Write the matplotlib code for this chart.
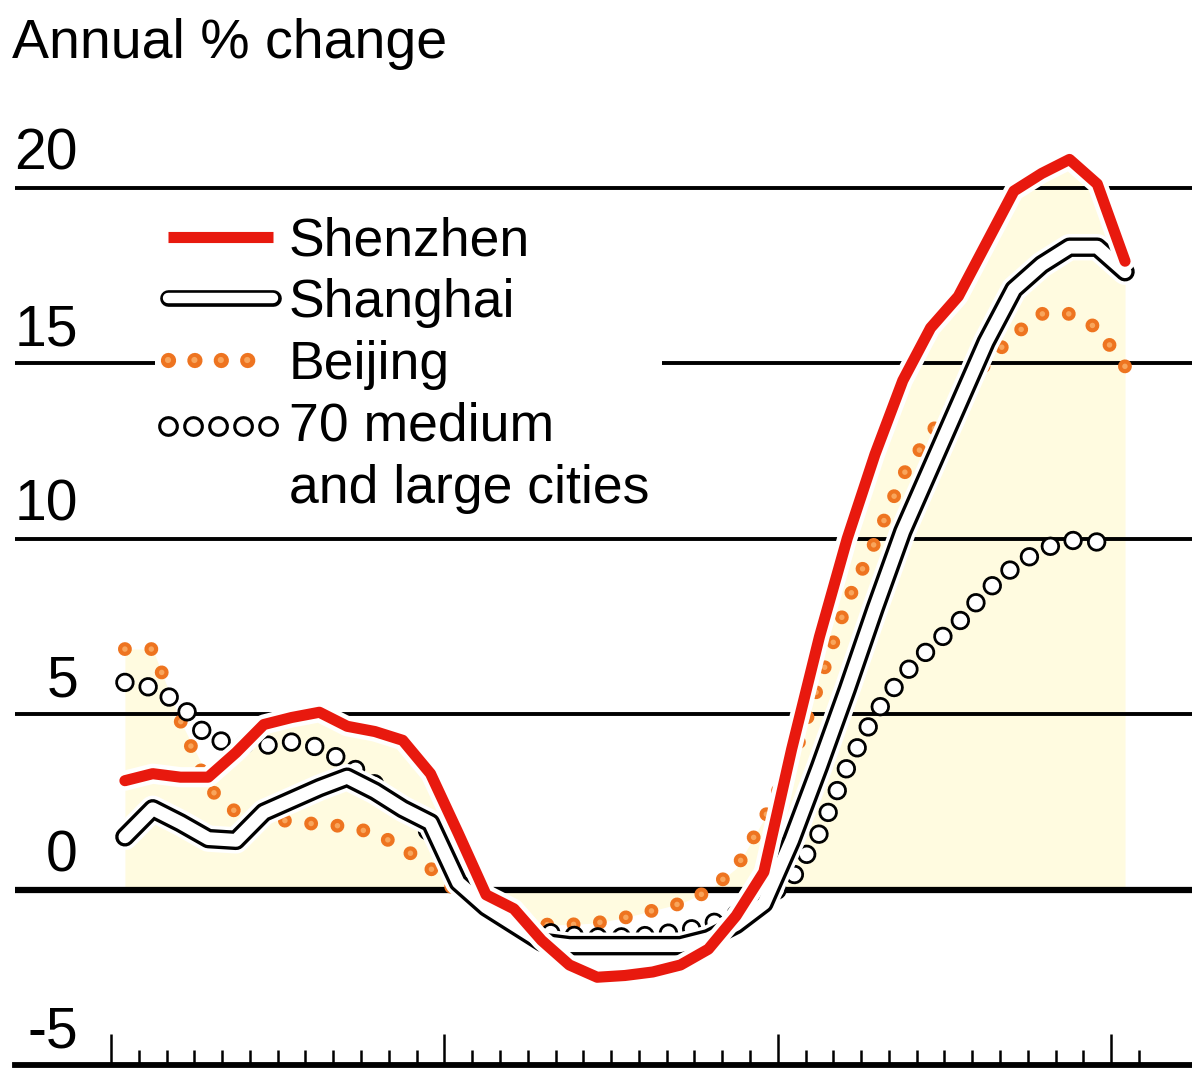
import matplotlib
matplotlib.use("Agg")
import matplotlib.pyplot as plt
import matplotlib.patheffects as pe
from matplotlib.lines import Line2D
from matplotlib.legend_handler import HandlerTuple
from matplotlib.ticker import FixedLocator
import numpy as np

plt.rcParams["font.family"] = ["Liberation Sans", "DejaVu Sans"]
plt.rcParams["lines.scale_dashes"] = False

# monthly annual % change, Jan 2011 .. Jan 2014 (70 cities to Dec 2013)
SHENZHEN = [3.1, 3.3, 3.2, 3.2, 3.9, 4.7, 4.9, 5.05, 4.65, 4.5, 4.25, 3.3,
            1.6, -0.15, -0.55, -1.45, -2.15, -2.5, -2.45, -2.35, -2.15, -1.7,
            -0.75, 0.5, 4.0, 7.2, 10.0, 12.4, 14.5, 16.0, 16.9, 18.4,
            19.9, 20.4, 20.8, 20.1, 17.9]
SHANGHAI = [1.5, 2.3, 1.9, 1.45, 1.4, 2.2, 2.55, 2.9, 3.2, 2.8, 2.3, 1.9,
            0.2, -0.5, -1.0, -1.5, -1.6, -1.6, -1.6, -1.6, -1.6, -1.4,
            -1.0, -0.4, 1.4, 3.5, 5.7, 8.0, 10.2, 12.0, 13.8, 15.6,
            17.1, 17.8, 18.3, 18.3, 17.6]
BEIJING = [6.85, 6.85, 4.8, 2.9, 2.2, 2.0, 1.95, 1.85, 1.8, 1.6, 1.2, 0.6,
           -0.1, -0.6, -0.9, -1.0, -1.0, -0.95, -0.8, -0.6, -0.4, -0.05,
           0.6, 2.0, 3.6, 5.9, 8.2, 9.9, 11.8, 13.0, 14.0, 15.0,
           15.8, 16.4, 16.4, 16.0, 14.9]
CITIES70 = [5.9, 5.75, 5.3, 4.3, 4.15, 4.1, 4.2, 4.05, 3.6, 3.0, 2.3, 1.6,
            0.5, -0.4, -0.9, -1.2, -1.3, -1.35, -1.35, -1.3, -1.2, -1.0,
            -0.7, -0.3, 0.3, 1.6, 3.5, 5.0, 6.1, 6.9, 7.6, 8.5,
            9.2, 9.7, 9.95, 9.9]
Y_TICKS = [-5, 0, 5, 10, 15, 20]
N_MONTH_TICKS = 38

RED = "#e8190e"
ORANGE = "#ee7420"
ORANGE_IN = "#f8a55c"
SHADE = "#fffbe0"


class FirstLineTuple(HandlerTuple):
    """Tuple handler whose marks sit on the first line of a two-line label."""
    def create_artists(self, legend, orig_handle, xdescent, ydescent,
                       width, height, fontsize, trans):
        return super().create_artists(legend, orig_handle, xdescent,
                                      ydescent - 1.22 * fontsize, width,
                                      height, fontsize, trans)


x = np.arange(len(SHENZHEN)) + 0.5
x70 = np.arange(len(CITIES70)) + 0.5

fig = plt.figure(figsize=(11.92, 10.74), dpi=100)
ax = fig.add_axes([15 / 1192, 9 / 1074, 1 - 15 / 1192, (1065 - 90) / 1074])
ax.set_xlim(-3.456, 38.91)
ax.set_ylim(-5, -5 + (1065 - 90) / 35.1)

# pale shading under the upper envelope
env = np.max(np.vstack([SHENZHEN, SHANGHAI, BEIJING]), axis=0)
ax.fill_between(x, 0, env, color=SHADE, lw=0, zorder=1)

# gridlines + labels
for v in Y_TICKS:
    if v > -5:
        ax.axhline(v, color="black", lw=4.5 if v == 0 else 2.8, zorder=2)
    ax.text(-1.19, v + 0.5, f"{v}", ha="right", va="baseline",
            fontsize=41, color="black", zorder=3)

halo = lambda w: [pe.withStroke(linewidth=w, foreground="white")]

# Beijing: orange dots
ax.plot(x, BEIJING, color=ORANGE, lw=10, ls=(0, (0.01, 19)),
        dash_capstyle="round", zorder=3)
ax.plot(x, BEIJING, color=ORANGE_IN, lw=4, ls=(0, (0.01, 19)),
        dash_capstyle="round", zorder=3)

# 70 cities: open circles
ax.plot(x70, CITIES70, color="black", lw=14, ls=(0, (0.01, 17)),
        dash_capstyle="round", zorder=4)
ax.plot(x70, CITIES70, color="white", lw=10, ls=(0, (0.01, 17)),
        dash_capstyle="round", zorder=4)

# Shanghai: double line
ax.plot(x, SHANGHAI, color="black", lw=14, solid_capstyle="round",
        solid_joinstyle="round", zorder=5, path_effects=halo(19))
ax.plot(x, SHANGHAI, color="white", lw=9.2, solid_capstyle="round",
        solid_joinstyle="round", zorder=5)

# Shenzhen: thick red
ax.plot(x, SHENZHEN, color=RED, lw=8, solid_capstyle="round",
        solid_joinstyle="round", zorder=6, path_effects=halo(14.5))

# axis: baseline with month ticks
for s in ["top", "left", "right"]:
    ax.spines[s].set_visible(False)
ax.spines["bottom"].set_linewidth(4.2)
ax.set_yticks([])
ax.xaxis.set_major_locator(FixedLocator(range(0, N_MONTH_TICKS, 12)))
ax.xaxis.set_minor_locator(FixedLocator(range(N_MONTH_TICKS)))
ax.tick_params(axis="x", which="major", direction="in", length=22, width=1.8,
               labelbottom=False)
ax.tick_params(axis="x", which="minor", direction="in", length=11, width=1.8)

fig.text(12 / 1192, 1 - 58 / 1074, "Annual % change", fontsize=40,
         va="baseline", ha="left")

# legend
h_sz = Line2D([], [], color=RED, lw=8, solid_capstyle="butt")
h_sh = (Line2D([], [], color="black", lw=12, solid_capstyle="round"),
        Line2D([], [], color="white", lw=7.5, solid_capstyle="round"))
h_bj = (Line2D([], [], color=ORANGE, lw=11, ls=(0, (0.01, 19)),
               dash_capstyle="round"),
        Line2D([], [], color=ORANGE_IN, lw=4.5, ls=(0, (0.01, 19)),
               dash_capstyle="round"))
h_70 = (Line2D([], [], color="black", lw=15, ls=(0, (0.01, 18)),
               dash_capstyle="round"),
        Line2D([], [], color="white", lw=10.5, ls=(0, (0.01, 18)),
               dash_capstyle="round"))
leg = ax.legend([h_sz, h_sh, h_bj, h_70],
                ["Shenzhen", "Shanghai", "Beijing", "70 medium\nand large cities"],
                handler_map={tuple: HandlerTuple(ndivide=1),
                             h_70: FirstLineTuple(ndivide=1)},
                loc="upper left", bbox_to_anchor=(155 / 1192, 1 - 203 / 1074),
                bbox_transform=fig.transFigure, fontsize=38.5, frameon=True,
                facecolor="white", edgecolor="none", framealpha=1,
                fancybox=False, borderpad=0.25, borderaxespad=0,
                handlelength=1.95, handletextpad=0.3, labelspacing=0.22)
leg.get_texts()[3].set_linespacing(1.32)
leg.set_zorder(10)

fig.savefig("out.png", dpi=100, facecolor="white")
